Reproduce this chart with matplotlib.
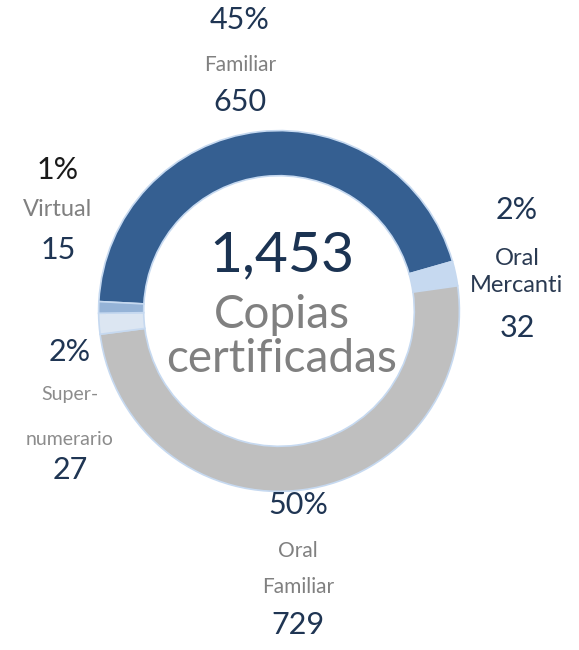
import matplotlib
matplotlib.use("Agg")
import matplotlib.pyplot as plt

categorias = ["Familiar", "Oral Mercanti", "Oral Familiar", "Supernumerario", "Virtual"]
valores = [650, 32, 729, 27, 15]
porcentajes = ["45%", "2%", "50%", "2%", "1%"]
etiquetas = ["Familiar", "Oral\nMercanti", "Oral\nFamiliar", "Super-\n\nnumerario", "Virtual"]
colores = ["#355f91", "#c6d9f0", "#bfbfbf", "#dce6f2", "#95b3d7"]
total = sum(valores)
titulo = "Copias\ncertificadas"

W, H = 579, 650
fig = plt.figure(figsize=(W / 100, H / 100), dpi=100)
plt.rcParams['font.family'] = ['Lato', 'DejaVu Sans']

cx, cy, r = 279, 311, 184
ax = fig.add_axes([(cx - r) / W, (H - cy - r) / H, 2 * r / W, 2 * r / H])
ax.pie(valores, colors=colores, startangle=177, counterclock=False,
       radius=1, wedgeprops=dict(width=0.25, edgecolor="#c6d9f0", linewidth=1.2))
ax.set_xlim(-1.02, 1.02)
ax.set_ylim(-1.02, 1.02)
ax.set_aspect("equal")
ax.axis("off")

def px(x, y):
    return x / W, 1 - y / H

navy = "#1f3553"
gris = "#808080"

# centro
fig.text(*px(282, 256), f"{total:,}", ha="center", va="center", fontsize=41, color="#1b3352")
fig.text(*px(282, 337), titulo, ha="center", va="center", fontsize=33, color=gris,
         linespacing=1.08)

# posiciones de etiquetas (pct, nombre, valor)
pos = [
    ((240, 20), (240, 65), (240, 102)),
    ((517, 210), (517, 272), (517, 328)),
    ((298, 505), (298, 569), (298, 625)),
    ((70, 352), (70, 417), (70, 470)),
    ((58, 170), (58, 210), (58, 250)),
]
nombre_color = [gris, "#2a3a52", gris, "#8c8c8c", gris]
nombre_size = [15, 17, 15, 14, 17]
nombre_ls = [1.6, 1.35, 1.95, 1.4, 1.6]
pct_color = [navy, navy, navy, navy, "#1a1a1a"]

for i in range(len(valores)):
    (p1, p2, p3) = pos[i]
    fig.text(*px(*p1), porcentajes[i], ha="center", va="center", fontsize=22, color=pct_color[i])
    fig.text(*px(*p2), etiquetas[i], ha="center", va="center", fontsize=nombre_size[i],
             color=nombre_color[i], linespacing=nombre_ls[i])
    fig.text(*px(*p3), str(valores[i]), ha="center", va="center", fontsize=22, color=navy)

fig.savefig("out.png", dpi=100)
